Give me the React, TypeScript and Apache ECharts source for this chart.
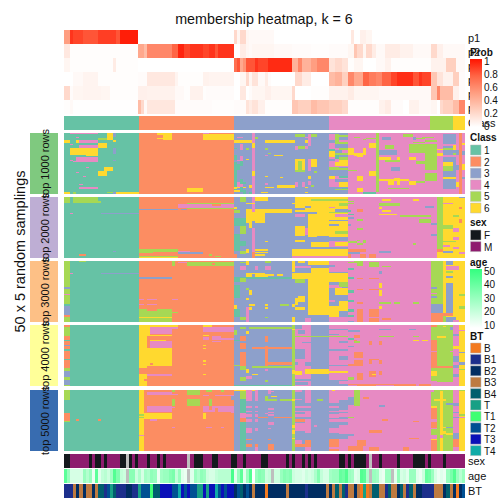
import React, { useEffect, useRef } from "react";
import * as echarts from "echarts";

const COLS = 130;
const classColors: Record<number, string> = { 1: "#66C2A5", 2: "#FC8D62", 3: "#8DA0CB", 4: "#E78AC3", 5: "#A6D854", 6: "#FFD92F" };
const sexColors: Record<string, string> = { F: "#14191D", M: "#8E1C6E", NA: "#BEBEBE" };
const btColors: Record<string, string> = { B: "#F37A20", B1: "#1C2F8C", B2: "#002D62", B3: "#BD7A40", B4: "#005F6E", T: "#17A085", T1: "#3FFF72", T2: "#005093", T3: "#0A10B8", T4: "#10ABA8" };
const blockColors = ["#7FC97F", "#BEAED4", "#FDC086", "#FFFF99", "#386CB0"];
const blockLabels = ["top 1000 rows", "top 2000 rows", "top 3000 rows", "top 4000 rows", "top 5000 rows"];
const probLabels = ["p1", "p2", "p3", "p4", "p5", "p6"];

type Run = [number, number];
const p1: Run[] = [[2,.5],[3,.9],[6,.85],[11,.8],[17,.87],[18,.8],[24,.97],[55,0],[56,.2],[57,.05],[59,.2],[60,.05],[68,.03],[93,0],[94,.12],[96,0],[98,.08],[100,.05],[130,0]];
const p2: Run[] = [[2,.12],[24,.01],[26,.45],[27,.35],[35,.6],[37,.75],[39,.95],[41,.85],[45,.9],[47,.85],[49,.9],[50,.8],[55,.9],[57,0],[59,.1],[60,.05],[61,.03],[68,.05],[74,.03],[80,.02],[86,.01],[92,.02],[94,.05],[95,.3],[97,.2],[98,.05],[100,.2],[101,.1],[104,.03],[109,.1],[113,.07],[119,.03],[121,.2],[123,.08],[130,.03]];
const p3: Run[] = [[2,.05],[16,.01],[17,.1],[24,.01],[55,0],[56,.7],[57,.8],[58,.45],[59,.55],[62,.8],[63,.9],[66,.85],[74,.93],[76,.4],[77,.6],[80,.4],[82,.5],[86,.6],[88,.15],[90,.2],[92,.15],[94,.01],[97,.05],[101,0],[104,.03],[106,.07],[119,.01],[124,.07],[127,.25],[130,.03]];
const p4: Run[] = [[3,0],[6,.03],[11,.06],[24,.01],[27,.02],[36,.12],[37,.06],[45,.01],[47,.07],[55,.06],[57,0],[59,.05],[60,.2],[61,.05],[63,.15],[65,.03],[66,.1],[67,.02],[75,0],[77,.2],[80,.1],[86,0],[88,.35],[90,.4],[92,.25],[94,.6],[97,.45],[99,.75],[101,.65],[103,.6],[106,.75],[108,.85],[113,.92],[115,.8],[116,.9],[119,.85],[121,.3],[123,.15],[126,.07],[128,.25],[130,.02]];
const p5: Run[] = [[2,.2],[3,.02],[6,.05],[12,.06],[15,.05],[24,.01],[27,.08],[36,.07],[39,.03],[41,.01],[45,.07],[46,.01],[55,.02],[57,0],[59,.12],[60,0],[61,.02],[65,.05],[67,.08],[74,.05],[75,.2],[80,0],[86,.01],[92,.07],[94,.1],[102,.05],[119,.03],[121,.3],[122,.6],[126,.35],[128,.08],[130,.02]];
const p6: Run[] = [[2,.01],[3,.03],[24,.005],[25,.35],[26,.2],[27,.03],[36,.13],[48,.02],[55,.01],[59,.02],[60,.15],[61,.1],[63,.15],[65,.08],[74,.01],[76,.3],[80,.25],[82,.35],[86,.3],[90,.25],[92,.2],[102,.01],[104,.07],[106,.1],[110,.02],[112,0],[115,.07],[119,.03],[121,.05],[122,0],[123,.2],[126,.25],[128,.35],[130,.6]];
const probRows = [p1, p2, p3, p4, p5, p6];
const classRuns: Run[] = [[24.3,1],[55,2],[86,3],[118.6,4],[126,5],[130,6]];

type Patch = [number, number, number, number, number];
const block1: Patch[] = [
[0,24,0,50,1],[24,55,0,50,2],[55,86,0,50,3],[86,117,0,50,4],[117,121,0,50,5],[121,123,0,50,4],[123,127,0,50,3],[127,128,0,50,4],[128,129,0,50,2],[129,130,0,50,4],
[2,11,0,1,4],[14,16,0,6,6],[16,17,0,3,3],[11,14,4,6,5],[4,5,3,4,4],[5,11,6,8,4],[0,2,6,8,6],[4,5,6,8,6],[11,14,8,12,6],[2,3,9,10,4],[5,11,10,12,4],[2,11,12,18,6],[16,17,6,7,6],[16,17,12,17,3],[2,3,22,23,4],[4,11,20,24,4],[3,6,23,24,4],[7,11,18,19,6],[16,17,22,23,3],[13,16,28,31,6],[7,8,28,29,4],[11,14,31,35,6],[4,5,32,33,4],[6,7,35,36,4],[5,11,44,46,4],[5,6,42,43,4],[0,2,48,50,6],[14,16,48,49,5],[16,17,48,50,3],[17,24,48,50,6],[3,4,48,50,5],
[30,32,0,2,6],[32,35,0,6,6],[30,32,4,5,6],[45,47,0,1,4],[45,55,1,6,6],[40,45,45,48,6],
[55,60,6,8,6],[61,62,0,50,4],[61,62,8,12,6],[61,62,31,35,6],[60,61,6,8,6],[60,61,48,50,1],[56,58,3,4,4],[57,58,9,14,4],[55,56,12,13,1],[59,60,12,14,5],[57,58,19,23,4],[55,56,18,22,1],[56,57,22,23,4],[59,60,21,22,6],[55,56,24,47,1],[56,57,25,30,1],[57,58,23,27,1],[57,58,38,48,1],[56,57,40,44,4],[58,59,40,42,1],[57,58,42,44,4],[58,59,44,45,6],[56,57,44,45,6],[55,56,44,46,6],[60,61,43,45,6],[55,57,47,48,6],[58,59,47,50,1],[62,63,3,5,5],
[65,66,41,43,4],[65,67,44,45,6],[67,68,44,45,6],[69,75,43,45,6],[64,66,48,49,6],[65,66,35,36,6],[70,71,36,37,6],[65,66,18,19,4],[66,67,16,17,5],[68,71,18,19,6],[65,75,6,8,6],[65,66,12,14,5],
[75,78,1,3,5],[79,80,1,11,4],[80,82,1,3,5],[78,79,3,4,4],[78,79,6,8,6],[75,78,11,13,5],[75,76,11,14,4],[78,79,11,13,4],[75,78,21,23,6],[75,76,23,32,6],[77,78,23,32,6],[76,77,23,30,5],[75,78,30,32,5],[79,80,21,31,4],[80,82,21,28,6],[81,82,31,33,5],[79,80,35,38,6],[75,76,40,44,4],[77,78,40,44,4],[79,80,39,43,4],[78,79,44,45,6],[78,79,48,49,6],[80,81,43,44,5],
[86,92,0,1,3],[88,89,1,11,5],[89,92,1,6,3],[89,92,2,3,5],[86,88,6,8,3],[89,92,7,9,5],[88,92,9,12,3],[88,92,12,14,4],[89,92,12,14,5],[86,88,13,15,1],[86,88,15,20,6],[88,90,14,16,3],[88,92,16,18,5],[89,92,18,20,3],[88,89,18,21,1],[89,92,20,22,5],[86,88,21,23,3],[89,92,22,24,6],[88,92,24,27,6],[86,92,28,35,3],[86,89,28,30,5],[89,92,29,30,5],[86,88,35,38,6],[89,92,35,37,1],[88,92,38,40,3],[89,92,40,44,6],[88,89,40,43,4],[86,92,44,47,3],[90,92,45,46,1],[86,92,47,50,3],[88,92,46,47,5],
[92,94,12,18,6],[94,95,16,19,6],[95,97,16,20,6],[97,98,12,18,6],[94,96,3,4,5],[97,98,5,6,5],[99,101,8,12,6],[98,101,4,5,5],[95,97,35,39,6],[99,101,31,35,6],[95,97,45,48,6],[97,99,48,50,1],[99,101,48,50,1],[92,95,30,31,5],
[101,102,0,48,5],[103,106,3,6,3],[104,107,10,13,5],[102,108,14,18,3],[102,106,20,22,6],[108,109,20,22,6],[112,114,20,22,6],[112,117,9,16,5],[110,113,1,3,5],[113,114,3,6,3],[114,117,4,5,5],[113,117,7,8,5],[114,117,23,25,5],[104,109,22,24,5],[106,109,28,31,3],[102,112,38,39,6],[105,107,39,43,6],[107,109,37,38,6],[108,109,39,43,6],[112,114,39,43,6],[114,117,39,41,5],[105,112,45,46,5],
[117,121,30,33,4],[117,121,39,50,4],[117,121,0,9,4],[116,120,3,4,5],[117,121,6,7,5],[121,123,13,14,6],[121,123,16,19,6],[123,126,24,27,6],[123,126,27,31,5],[123,127,0,1,4],[123,127,9,11,4],[123,126,12,14,5],[126,127,16,20,5],[127,128,40,44,6],[126,127,10,14,6],[123,127,46,50,4],[129,130,8,10,6],[129,130,15,18,3],[129,130,25,30,6],[129,130,36,38,3],[127,128,14,18,3],[127,128,26,30,3],[123,127,36,38,6],[123,127,18,20,4],
];
const block2: Patch[] = [
[0,24,0,50,1],[24,55,0,50,2],[55,86,0,50,3],[86,121,0,50,4],[121,123,0,50,5],[123,130,0,50,6],
[0,2,0,5,5],[3,11,0,4,5],[3,12,3,5,5],[2,3,13,14,4],[12,24,13,14,3],[16,17,44,45,3],[5,7,47,48,2],
[24,37,10,11,3],[38,40,10,11,3],[37,55,6,9,4],[40,55,5,6,5],[48,51,6,7,2],[40,55,9,10,5],[24,37,43,46,5],[29,37,45,46,2],[24,29,46,47,2],[24,37,48,49,5],[24,37,49,50,6],[37,45,45,47,3],[37,41,44,45,4],[49,51,48,49,5],[47,48,47,48,5],
[55,56,8,10,6],[55,57,11,13,5],[57,59,0,4,5],[55,59,17,24,1],[57,59,24,30,5],[55,57,30,44,1],[57,59,36,40,1],[57,59,44,47,5],[55,56,47,50,2],
[61,62,0,12,4],[59,61,10,21,6],[62,65,10,21,6],[65,74,10,13,6],[61,62,12,20,6],[60,61,20,25,6],[62,66,0,3,6],[59,62,5,6,6],[74,75,5,6,6],[61,62,45,50,2],[59,60,43,46,6],[62,66,43,44,6],[62,66,45,46,6],[62,65,47,48,6],[65,66,36,37,6],[61,62,25,45,4],
[82,92,0,33,6],[75,82,0,12,6],[75,78,9,11,3],[78,80,7,9,3],[80,92,2,3,5],[89,92,5,7,5],[88,92,10,12,3],[78,80,12,14,3],[79,82,14,33,6],[75,78,14,16,4],[75,79,18,20,3],[75,78,24,32,6],[75,78,32,35,3],[75,78,35,37,6],[78,79,25,31,4],[78,79,31,38,3],[75,78,37,39,3],[82,86,32,37,3],[80,86,37,42,6],[86,92,19,20,3],[86,89,22,24,3],[74,92,41,43,3],[74,92,43,48,6],[74,92,48,50,4],[86,92,33,36,3],[88,92,37,40,6],[86,88,36,41,4],[88,92,14,16,4],[86,88,8,9,4],[88,92,28,30,5],[86,92,12,13,5],
[92,94,3,4,5],[92,94,5,6,5],[92,93,11,12,1],[95,97,10,12,2],[95,97,18,20,5],[92,94,16,18,3],[92,94,14,15,1],[95,97,25,27,5],[92,93,22,24,3],[95,96,35,36,5],[92,95,36,38,5],[95,97,38,39,5],[97,98,35,38,5],[92,98,43,45,2],[92,96,45,47,3],[96,98,47,50,2],[92,93,47,50,2],[99,101,47,50,2],[102,106,44,46,3],
[102,109,5,7,5],[103,106,2,3,6],[102,103,8,10,6],[103,106,11,12,6],[102,108,14,15,6],[109,119,15,16,5],[115,119,18,21,5],[113,115,2,3,6],[113,114,38,39,5],[117,120,7,9,3],[119,121,21,23,3],[119,121,30,32,3],
[121,123,43,45,2],[121,123,45,50,6],[126,128,25,29,4],[123,126,5,6,4],[123,126,23,26,5],[128,130,0,1,3],[128,129,8,10,2],[128,129,18,21,2],[123,125,39,41,4],[126,128,33,35,4],[126,128,41,43,4],[123,126,44,46,3],[126,128,15,16,5],[128,130,45,47,4],[123,127,36,37,5],
];
const block3: Patch[] = [
[0,24,0,50,1],[24,55,0,50,2],[55,74,0,50,3],[74,92,0,50,3],[92,119,0,50,4],[119,123,0,50,5],[123,130,0,50,6],
[0,2,0,21,5],[0,2,21,23,3],[0,2,23,27,5],[0,2,27,28,4],[0,2,28,35,5],[0,2,35,37,1],[0,2,37,44,3],[0,2,44,46,2],[0,2,46,50,5],[2,3,10,11,4],[12,24,10,11,3],[5,7,0,1,5],
[24,35,13,15,3],[24,26,31,32,4],[27,30,31,32,4],[35,37,31,32,4],[24,26,35,36,4],[27,30,35,36,4],[24,35,39,46,5],[27,30,39,41,2],[24,35,46,47,6],[24,35,47,50,5],[35,36,0,4,5],[37,40,1,2,4],[40,55,1,4,5],[48,49,2,3,2],[35,37,42,43,5],
[57,59,1,2,5],[59,60,0,3,6],[57,59,4,7,4],[62,63,4,7,4],[65,67,0,2,5],[65,67,4,7,4],[59,60,38,50,4],[59,65,10,11,6],[59,61,11,13,6],[62,66,11,13,6],[66,68,11,12,6],[69,71,11,12,6],[55,74,13,15,1],[55,59,14,17,1],[57,59,14,17,5],[55,57,20,30,1],[60,61,24,28,6],[59,60,30,32,6],[55,56,36,39,6],[55,57,39,46,1],[60,62,35,37,6],[65,66,35,37,6],[60,61,38,40,6],[65,66,38,39,6],[70,73,35,37,5],[57,59,46,48,5],[65,66,46,47,5],[59,60,22,24,5],
[74,75,0,9,6],[74,92,10,15,6],[79,88,0,3,6],[79,86,15,44,6],[75,79,21,29,3],[75,78,15,18,5],[76,78,29,34,6],[75,76,30,36,6],[75,78,38,40,6],[74,75,35,38,6],[74,75,46,50,6],[76,78,0,2,6],[75,80,4,6,4],[80,86,6,10,6],[76,79,6,9,3],[86,92,0,10,3],[86,92,0,3,4],[86,92,5,9,4],[88,92,3,5,4],
[86,92,15,17,6],[86,90,20,22,4],[88,92,22,28,6],[89,92,17,21,5],[86,89,28,32,3],[86,88,32,34,4],[86,88,34,37,3],[89,92,30,33,3],[89,92,33,41,6],[86,89,37,46,6],[89,92,43,50,3],[82,86,44,47,3],[80,86,47,50,3],[86,92,46,50,4],[78,80,47,50,4],
[92,94,1,2,5],[92,94,6,7,1],[92,94,13,15,1],[92,94,24,26,1],[92,94,32,34,1],[92,94,39,42,1],[92,94,44,46,1],[92,94,49,50,3],[95,97,39,50,2],[99,102,39,46,2],[99,102,47,50,2],[95,97,0,4,5],[94,95,0,2,5],[99,102,1,5,5],[95,97,14,15,2],[99,102,14,15,2],[95,97,23,24,2],[99,102,23,24,2],[95,97,34,35,2],[102,103,8,11,3],[102,103,18,22,6],[102,103,24,29,6],[102,103,37,39,6],[103,106,4,5,5],[103,106,47,48,2],[102,106,34,35,5],[107,109,34,35,5],[113,115,34,35,5],
[119,121,21,23,3],[119,121,26,27,4],[119,123,35,43,3],[119,126,43,45,2],[119,123,45,50,2],[119,121,29,30,3],[124,126,0,3,3],[124,126,18,43,3],[124,128,4,7,4],[124,126,8,10,5],[124,126,12,14,3],[128,130,27,29,5],[128,130,37,39,5],[124,127,46,50,3],[126,128,48,50,4],[123,124,45,50,5],
];
const block4: Patch[] = [
[0,24,0,50,1],[24,55,0,50,2],[55,75,0,50,3],[75,80,0,50,4],[80,86,0,50,3],[86,119,0,50,4],[119,121,0,50,2],[121,126,0,50,5],[126,128,0,50,4],[128,130,0,50,6],
[0,2,0,2,2],[0,2,2,9,5],[0,2,9,12,2],[0,2,12,13,1],[0,2,13,16,2],[0,2,16,17,3],[0,2,17,20,2],[0,2,21,28,2],[0,2,28,29,1],[0,2,29,35,2],[0,2,35,38,5],[0,2,38,43,3],[0,2,43,45,5],[0,2,45,49,3],[0,2,49,50,5],
[24,27,1,35,6],[27,35,19,34,6],[28,35,2,7,4],[28,35,13,19,4],[27,28,11,12,2],[24,28,0,1,6],[27,37,0,2,6],[28,35,8,9,6],[28,33,12,13,6],[27,28,15,19,2],[28,29,31,33,2],[24,27,40,50,6],[27,35,40,42,4],[26,27,44,46,2],[26,27,2,8,6],[27,28,2,9,6],
[45,48,0,2,6],[45,55,2,6,4],[35,37,2,3,4],[45,47,8,9,6],[45,47,10,12,4],[48,51,9,12,4],[51,55,11,12,4],[48,51,13,14,4],[45,46,16,17,6],[45,46,19,20,6],[45,46,29,30,6],[45,46,32,33,6],[45,46,40,41,6],
[55,56,4,8,5],[57,59,2,3,5],[60,74,2,3,5],[57,59,9,13,2],[57,59,15,20,2],[57,59,22,34,2],[55,57,12,13,1],[55,57,33,34,5],[57,59,34,37,5],[59,60,36,39,6],[59,60,5,7,6],[65,66,9,14,2],[65,66,17,35,2],[61,75,18,20,2],[65,75,30,33,2],[61,75,34,35,5],[65,66,36,38,4],[57,59,43,46,5],[65,66,45,47,5],[55,75,49,50,1],[74,75,0,50,5],[74,75,3,4,6],[74,75,37,40,6],[61,63,40,41,6],[59,61,42,44,4],
[75,77,0,3,3],[75,86,9,10,5],[75,78,20,28,3],[76,78,4,7,3],[75,76,30,33,3],[78,80,30,34,3],[75,80,44,46,3],[78,86,36,40,6],[75,77,38,41,6],[75,79,47,49,3],[77,80,14,15,3],
[89,92,25,29,3],[86,92,3,4,3],[86,89,7,8,3],[86,92,9,10,5],[86,92,20,21,3],[89,92,13,15,3],[86,89,38,39,6],[89,92,38,39,6],[86,92,45,50,3],[86,92,33,34,3],[89,92,46,48,4],
[94,96,8,11,2],[94,95,12,14,2],[94,96,13,15,5],[94,97,22,27,2],[94,97,29,33,2],[92,97,32,34,2],[95,97,39,45,2],[92,94,43,45,5],[92,96,4,6,3],[92,94,17,18,3],[92,94,11,12,1],[95,101,48,50,2],[102,103,48,49,2],[107,114,48,50,2],[115,119,48,50,2],[92,110,48,49,2],
[99,100,13,16,2],[102,103,13,16,2],[99,100,29,32,2],[102,103,29,32,2],[99,101,38,41,2],[102,103,38,41,2],[100,101,40,43,6],[99,101,41,43,2],[99,102,28,29,2],
[102,107,9,10,5],[102,103,3,4,3],[103,106,3,4,3],[112,114,3,4,3],[113,115,9,10,5],[113,115,12,13,6],[116,118,12,13,6],
[119,121,2,12,5],[119,121,21,22,4],[119,121,34,38,5],[119,121,38,42,6],[119,121,42,46,5],[119,121,46,50,4],[121,124,9,11,6],[123,124,1,2,6],[125,126,2,4,3],[119,126,34,35,2],[126,128,25,30,3],[126,128,33,35,3],[126,128,7,9,3],[126,128,17,20,6],[126,128,40,43,3],[121,126,47,50,4],[125,126,21,22,4],[128,130,4,5,4],[128,130,22,23,3],[128,130,30,33,3],[128,130,36,37,5],
];
const block5: Patch[] = [
[0,24,0,50,1],[24,55,0,50,2],[55,86,0,50,3],[86,121,0,50,4],[121,126,0,50,5],[126,128,0,50,4],[128,130,0,50,6],
[0,2,0,8,5],[0,2,19,25,2],[0,2,25,26,5],[4,5,24,25,2],[11,12,24,25,2],
[24,26,0,50,6],[24,26,20,21,5],[24,26,22,23,5],[24,26,37,38,4],[27,35,2,4,4],[35,36,0,2,5],[35,36,7,13,5],[35,37,3,4,4],[27,35,13,18,4],[26,35,19,24,6],[28,30,24,25,4],[35,36,14,15,4],[35,36,30,31,4],
[40,44,0,4,5],[40,44,7,13,5],[47,48,7,13,5],[46,48,0,2,5],[51,52,0,2,5],[45,47,4,5,4],[49,55,4,5,4],[45,55,13,18,4],[47,48,13,16,2],[49,50,15,18,2],[45,46,19,24,6],[46,48,30,31,4],[51,52,30,31,4],
[54,55,5,8,3],[54,55,14,19,4],[55,59,0,1,6],[57,59,1,7,5],[57,59,7,50,1],[57,59,19,23,4],[57,59,23,26,2],
[59,61,0,9,4],[59,61,13,15,4],[59,61,17,18,4],[59,61,20,22,4],[59,61,24,26,4],[59,61,31,35,4],[59,61,40,41,2],[59,61,44,47,2],[61,62,0,1,6],
[62,63,0,9,4],[62,63,13,15,4],[62,63,17,18,4],[62,63,20,22,4],[62,63,24,26,4],[62,63,31,34,4],[62,63,44,47,2],[62,63,47,50,4],
[63,66,22,23,2],[65,66,19,20,4],[65,66,5,9,5],[66,69,7,9,5],[67,69,5,6,6],[70,74,7,9,5],[66,67,0,3,4],[67,68,1,2,4],[66,68,15,16,4],[66,68,18,19,4],[66,68,20,21,4],[66,68,26,29,4],[66,67,31,32,4],[66,67,40,41,2],[66,68,44,49,2],[68,74,22,23,2],
[74,75,0,50,5],[74,75,7,9,6],[74,75,29,31,6],[74,75,33,36,6],[74,75,39,40,6],
[75,77,0,2,4],[75,77,7,8,4],[75,78,13,15,4],[75,78,17,18,4],[75,78,20,22,4],[75,78,24,26,2],[75,78,27,34,4],[75,77,41,44,4],[75,78,44,47,2],[78,80,0,11,4],[78,80,13,15,4],[78,80,17,22,4],[78,80,24,35,4],[78,80,41,47,2],[78,80,47,50,4],[82,84,7,9,5],[81,82,29,30,4],
[86,89,11,13,3],[86,89,15,17,3],[86,89,18,20,3],[86,89,23,24,3],[86,89,26,31,3],[86,89,35,40,3],[86,89,40,47,2],[86,89,48,50,2],[87,88,0,1,6],
[89,92,8,16,3],[89,92,18,19,3],[89,92,22,24,3],[89,92,26,29,3],[89,92,36,40,3],[89,92,44,50,4],[92,94,6,12,3],[94,96,0,13,5],[92,94,22,23,5],[92,97,46,50,2],[95,98,41,46,2],[92,94,36,38,3],[99,102,47,50,2],[97,99,6,7,2],[102,104,12,14,3],[103,105,24,25,2],[99,103,33,35,2],
[113,115,25,26,2],[112,115,39,40,2],[110,112,47,50,2],
[119,121,2,13,5],[120,121,0,2,5],[119,121,13,15,6],[119,121,15,24,2],[119,121,26,31,2],[119,121,32,37,5],[119,121,40,41,6],[119,121,41,50,2],[122,123,1,50,6],[122,123,37,39,4],[120,124,7,9,6],[123,124,30,31,6],[123,124,34,36,6],[124,126,11,12,3],[124,126,30,31,3],[124,126,35,37,6],
[126,128,11,13,3],[126,128,18,19,3],[126,128,22,23,3],[126,128,35,40,3],[126,128,40,47,2],[128,130,0,1,5],[128,130,20,21,5],[128,130,22,23,4],
];
const blocks = [block1, block2, block3, block4, block5];

type SexRun = [number, string];
const sexRuns: SexRun[] = [[2,"F"],[8,"M"],[9,"F"],[10,"M"],[12,"F"],[13,"M"],[14,"F"],[18,"M"],[20,"F"],[21,"NA"],[22,"F"],[23,"M"],[24,"F"],[27,"M"],[28,"F"],[30,"M"],[31,"F"],[32,"M"],[33,"F"],[40,"M"],[41,"NA"],[42,"M"],[45,"F"],[48,"M"],[50,"F"],[54,"M"],[56,"F"],[58,"M"],[59,"F"],[64,"M"],[66,"F"],[72,"M"],[73,"F"],[74,"M"],[75,"F"],[77,"M"],[78,"F"],[79,"M"],[80,"F"],[81,"M"],[82,"F"],[89,"M"],[91,"F"],[92,"M"],[93,"F"],[94,"M"],[98,"F"],[99,"M"],[100,"NA"],[102,"M"],[103,"F"],[108,"M"],[109,"F"],[113,"M"],[117,"F"],[118,"M"],[119,"F"],[123,"M"],[124,"F"],[130,"M"]];
const ageValues: (number | null)[] = [42,30,18,18,18,18,30,25,30,14,42,16,22,24,20,28,44,35,22,20,null,33,33,20,26,18,28,26,32,30,14,28,30,30,34,36,22,30,16,14,null,16,30,26,32,30,20,18,18,22,24,24,24,24,46,16,30,42,16,30,44,10,30,34,32,20,22,null,20,20,30,34,32,34,20,18,18,16,20,18,20,26,34,22,18,18,28,30,30,40,38,44,30,28,16,18,44,42,26,null,30,28,16,14,30,30,null,16,32,18,20,16,30,30,16,14,20,40,38,30,18,14,16,14,30,36,44,30,24,30];
const btRuns: SexRun[] = [[3,"B1"],[4,"B3"],[5,"B2"],[6,"B3"],[7,"B2"],[9,"B3"],[10,"B2"],[11,"B3"],[13,"B4"],[14,"B1"],[15,"T2"],[16,"T"],[17,"B4"],[20,"B1"],[22,"B2"],[24,"B1"],[25,"T"],[28,"T2"],[29,"T1"],[31,"B4"],[35,"T3"],[37,"T2"],[38,"T4"],[39,"T3"],[40,"T2"],[41,"T3"],[43,"T2"],[45,"T"],[46,"T3"],[47,"T"],[49,"T3"],[50,"T4"],[51,"T2"],[52,"T3"],[53,"T2"],[55,"T3"],[56,"B2"],[57,"T2"],[58,"B4"],[59,"B2"],[60,"T2"],[61,"B2"],[62,"B3"],[65,"B2"],[66,"B"],[72,"B2"],[73,"B3"],[78,"B2"],[79,"B1"],[85,"B2"],[86,"B3"],[87,"B2"],[88,"B3"],[89,"B4"],[90,"B3"],[91,"B4"],[92,"B1"],[94,"B3"],[95,"B2"],[96,"B3"],[97,"B"],[98,"T"],[99,"B"],[100,"B3"],[102,"B4"],[104,"B3"],[105,"B1"],[106,"B4"],[108,"B3"],[109,"B2"],[110,"B4"],[111,"B3"],[112,"B1"],[113,"B4"],[114,"B3"],[116,"B2"],[120,"B1"],[123,"B3"],[124,"B2"],[125,"B4"],[126,"B3"],[127,"B2"],[128,"B"],[129,"B2"],[130,"T2"]];

const legendClass = ["1", "2", "3", "4", "5", "6"];
const legendSex = ["F", "M"];
const legendBT = ["B", "B1", "B2", "B3", "B4", "T", "T1", "T2", "T3", "T4"];
const probTicks = ["1", "0.8", "0.6", "0.4", "0.2", "0"];
const ageTicks = ["50", "40", "30", "20", "10"];

const FONT = '"Liberation Sans", Arial, sans-serif';
const lerp = (a: number[], b: number[], t: number) => a.map((v, i) => Math.round(v + (b[i] - v) * t));
const rgb = (c: number[]) => `rgb(${c[0]},${c[1]},${c[2]})`;
const probStops = [[255,255,255],[255,208,191],[255,158,129],[255,101,69],[255,20,0]];
function probColor(v: number) {
  const s = Math.min(Math.max(v, 0), 1) * 4;
  const i = Math.min(Math.floor(s), 3);
  return rgb(lerp(probStops[i], probStops[i + 1], s - i));
}
const ageColor = (v: number) => v < 0 ? "#BEBEBE" : rgb(lerp([255,255,255],[51,255,127],(v - 10) / 40));
const snapCol = (c: number) => (c === 24 ? 24.3 : c);

type Item = { value: number[]; fill: string };
const runsToItems = (runs: [number, any][], row: number, color: (v: any) => string): Item[] => {
  let start = 0;
  return runs.map(([end, v]) => {
    const it = { value: [start, end, row, row + 1], fill: color(v) };
    start = end;
    return it;
  });
};
const text = (x: number, y: number, t: string, size = 10, extra: any = {}, rot?: number) => ({
  type: "text", x, y, rotation: rot ?? 0, silent: true,
  style: { text: t, font: `${extra.bold ? "bold " : ""}${size}px ${FONT}`, fill: "#111", align: extra.align ?? "left", verticalAlign: "middle" },
});

function panels() {
  const out: { top: number; height: number; rows: number; items: Item[] }[] = [];
  out.push({ top: 30, height: 84, rows: 6, items: probRows.flatMap((r, i) => runsToItems(r, i, probColor)) });
  out.push({ top: 116, height: 14, rows: 1, items: runsToItems(classRuns, 0, (v) => classColors[v]) });
  const tops = [133, 197, 261, 325, 390];
  blocks.forEach((b, i) => out.push({
    top: tops[i], height: 61, rows: 50,
    items: b.map((p) => ({ value: [snapCol(p[0]), snapCol(p[1]), p[2], p[3]], fill: classColors[p[4]] })),
  }));
  out.push({ top: 454, height: 14, rows: 1, items: runsToItems(sexRuns, 0, (v) => sexColors[v]) });
  out.push({ top: 469, height: 14, rows: 1, items: ageValues.map((v, c) => ({ value: [c, c + 1, 0, 1], fill: ageColor(v ?? -1) })) });
  out.push({ top: 484, height: 14, rows: 1, items: runsToItems(btRuns, 0, (v) => btColors[v]) });
  return out;
}

function graphics() {
  const els: any[] = [];
  els.push(text(264, 19, "membership heatmap, k = 6", 14.3, { align: "center" }));
  els.push(text(20, 251.5, "50 x 5 random samplings", 14.5, { align: "center" }, Math.PI / 2));
  [133, 197, 261, 325, 390].forEach((t, i) => {
    els.push({ type: "rect", silent: true, shape: { x: 30, y: t, width: 28, height: 61 }, style: { fill: blockColors[i] } });
  });
  [133, 197, 261, 325, 390].forEach((t, i) => {
    els.push(text(45, t + 30.5, blockLabels[i], 11, { align: "center" }, Math.PI / 2));
  });
  probLabels.forEach((l, i) => els.push(text(468, 38 + i * 14, l, 11)));
  els.push(text(468, 123, "Class", 11));
  els.push(text(468, 461, "sex", 11));
  els.push(text(468, 476, "age", 11));
  els.push(text(468, 491, "BT", 11));

  els.push(text(470, 52, "Prob", 10, { bold: true }));
  els.push({ type: "rect", silent: true, shape: { x: 470, y: 59, width: 12, height: 68 }, style: { fill: new echarts.graphic.LinearGradient(0, 0, 0, 1, [
    { offset: 0, color: rgb(probStops[4]) }, { offset: .25, color: rgb(probStops[3]) }, { offset: .5, color: rgb(probStops[2]) }, { offset: .75, color: rgb(probStops[1]) }, { offset: 1, color: rgb(probStops[0]) },
  ]) } });
  probTicks.forEach((l, i) => els.push(text(484, 61 + i * 13, l)));

  const swatch = (y: number, fill: string, label: string) => {
    els.push({ type: "rect", silent: true, shape: { x: 470.5, y, width: 10.5, height: 10 }, style: { fill, stroke: "#BBBBBB", lineWidth: 0.5 } });
    els.push(text(484, y + 5.5, label));
  };
  els.push(text(470, 137, "Class", 10, { bold: true }));
  legendClass.forEach((l, i) => swatch(145 + i * 11.6, classColors[i + 1], l));
  els.push(text(470, 222, "sex", 10, { bold: true }));
  legendSex.forEach((l, i) => swatch(230 + i * 11.6, sexColors[l], l));
  els.push(text(470, 262, "age", 10, { bold: true }));
  els.push({ type: "rect", silent: true, shape: { x: 470, y: 269, width: 12, height: 59 }, style: { fill: new echarts.graphic.LinearGradient(0, 0, 0, 1, [
    { offset: 0, color: "rgb(51,255,127)" }, { offset: 1, color: "#FFFFFF" },
  ]) } });
  ageTicks.forEach((l, i) => els.push(text(484, 271 + i * 13.5, l)));
  els.push(text(470, 336, "BT", 10, { bold: true }));
  legendBT.forEach((l, i) => swatch(343 + i * 11.4, btColors[l], l));
  return els;
}

export default function App() {
  const ref = useRef<HTMLDivElement>(null);
  useEffect(() => {
    document.body.style.margin = "0";
    const chart = echarts.init(ref.current!, null, { renderer: "svg" });
    const ps = panels();
    chart.setOption({
      animation: false,
      backgroundColor: "#FFFFFF",
      grid: ps.map((p) => ({ left: 64, width: 401, top: p.top, height: p.height, show: false })),
      xAxis: ps.map((_, i) => ({ type: "value", gridIndex: i, min: 0, max: COLS, show: false })),
      yAxis: ps.map((p, i) => ({ type: "value", gridIndex: i, min: 0, max: p.rows, inverse: true, show: false })),
      series: ps.map((p, i) => ({
        type: "custom",
        xAxisIndex: i,
        yAxisIndex: i,
        silent: true,
        clip: false,
        encode: { x: [0, 1], y: [2, 3] },
        data: p.items.map((it) => it.value),
        renderItem: (params: any, api: any) => {
          const a = api.coord([api.value(0), api.value(2)]);
          const b = api.coord([api.value(1), api.value(3)]);
          const x0 = Math.round(a[0]), x1 = Math.round(b[0]), y0 = Math.round(a[1]), y1 = Math.round(b[1]);
          return { type: "rect", shape: { x: x0, y: y0, width: x1 - x0, height: y1 - y0 }, style: { fill: p.items[params.dataIndex].fill } };
        },
      })),
      graphic: { elements: graphics() },
    });
    return () => chart.dispose();
  }, []);
  return <div ref={ref} style={{ width: 504, height: 504, position: "absolute", left: 0, top: 0 }} />;
}
